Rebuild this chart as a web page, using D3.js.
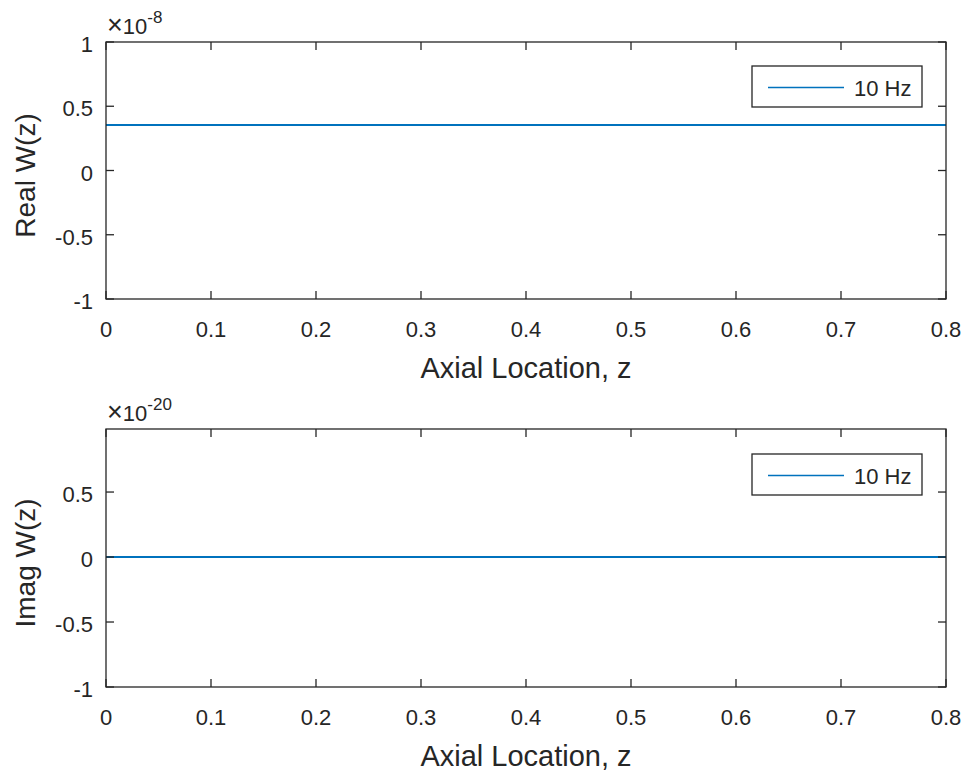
<html>
<head>
<meta charset="utf-8">
<script src="https://d3js.org/d3.v7.min.js"></script>
<style>
body { margin: 0; background: #fff; }
svg { display: block; }
text { font-family: "Liberation Sans", Arial, sans-serif; fill: #262626; }
</style>
</head>
<body>
<svg width="969" height="775"></svg>
<script>

// axial positions and responses (scaled by the exponent shown on each panel)
var zPos = [0, 0.1, 0.2, 0.3, 0.4, 0.5, 0.6, 0.7, 0.8];
var realW = [0.355, 0.355, 0.355, 0.355, 0.355, 0.355, 0.355, 0.355, 0.355];
var imagW = [0, 0, 0, 0, 0, 0, 0, 0, 0];
var xTicks = [0, 0.1, 0.2, 0.3, 0.4, 0.5, 0.6, 0.7, 0.8];
var realTicks = [-1, -0.5, 0, 0.5, 1];
var imagTicks = [-1, -0.5, 0, 0.5];
var legendLabel = "10 Hz";

var svg = d3.select("svg");
var blue = "#0072BD";
var axCol = "#262626";

function panel(opts) {
    var left = 106, right = 946;
    var x = d3.scaleLinear().domain([0, 0.8]).range([left, right]);
    var y = d3.scaleLinear().domain(opts.ydom).range([opts.bottom, opts.top]);

    var g = svg.append("g");

    // data line
    var line = d3.line().x((d, i) => x(zPos[i])).y(d => y(d));
    g.append("path")
        .datum(opts.values)
        .attr("d", line)
        .attr("fill", "none")
        .attr("stroke", blue)
        .attr("stroke-width", 2);

    // box
    g.append("rect")
        .attr("x", left).attr("y", opts.top)
        .attr("width", right - left).attr("height", opts.bottom - opts.top)
        .attr("fill", "none").attr("stroke", axCol).attr("stroke-width", 1.3);

    // ticks inward on all four sides
    xTicks.forEach(function(t) {
        g.append("line").attr("x1", x(t)).attr("x2", x(t))
            .attr("y1", opts.bottom).attr("y2", opts.bottom - 8)
            .attr("stroke", axCol).attr("stroke-width", 1.3);
        g.append("line").attr("x1", x(t)).attr("x2", x(t))
            .attr("y1", opts.top).attr("y2", opts.top + 8)
            .attr("stroke", axCol).attr("stroke-width", 1.3);
        g.append("text").attr("x", x(t)).attr("y", opts.bottom + 38)
            .attr("text-anchor", "middle").style("font-size", "22px")
            .text(t === 0 ? "0" : d3.format(".1f")(t));
    });
    opts.yticks.forEach(function(t) {
        g.append("line").attr("x1", left).attr("x2", left + 8)
            .attr("y1", y(t)).attr("y2", y(t))
            .attr("stroke", axCol).attr("stroke-width", 1.3);
        g.append("line").attr("x1", right).attr("x2", right - 8)
            .attr("y1", y(t)).attr("y2", y(t))
            .attr("stroke", axCol).attr("stroke-width", 1.3);
        g.append("text").attr("x", left - 13).attr("y", y(t) + 10)
            .attr("text-anchor", "end").style("font-size", "22px")
            .text(t === 0 ? "0" : String(t));
    });

    // exponent
    var ex = g.append("text").attr("x", left + 1).attr("y", opts.top - 8).style("font-size", "22px");
    ex.append("tspan").text("\u00D7").style("font-size", "27px");
    ex.append("tspan").text("10");
    ex.append("tspan").attr("dy", -11).style("font-size", "17px").text(opts.exp);

    // axis labels
    g.append("text").attr("x", (left + right) / 2 + 0).attr("y", opts.bottom + 79)
        .attr("text-anchor", "middle").style("font-size", "29px")
        .text("Axial Location, z");
    g.append("text")
        .attr("transform", "translate(35," + ((opts.top + opts.bottom) / 2 + 5) + ") rotate(-90)")
        .attr("text-anchor", "middle").style("font-size", "28px")
        .text(opts.ylabel);

    // legend
    var lx = opts.legX, ly = opts.legY;
    g.append("rect").attr("x", lx).attr("y", ly).attr("width", 170).attr("height", 41)
        .attr("fill", "#fff").attr("stroke", axCol).attr("stroke-width", 1.3);
    g.append("line").attr("x1", lx + 16).attr("x2", lx + 92)
        .attr("y1", ly + 21.5).attr("y2", ly + 21.5)
        .attr("stroke", blue).attr("stroke-width", 1.5);
    g.append("text").attr("x", lx + 102).attr("y", ly + 30)
        .style("font-size", "22px").text(legendLabel);
}

panel({ top: 42, bottom: 299, ydom: [-1, 1], values: realW, yticks: realTicks,
        exp: "-8", ylabel: "Real W(z)", legX: 752, legY: 66 });
panel({ top: 429, bottom: 687, ydom: [-1, 0.985], values: imagW, yticks: imagTicks,
        exp: "-20", ylabel: "Imag W(z)", legX: 752, legY: 454 });

</script>
</body>
</html>
